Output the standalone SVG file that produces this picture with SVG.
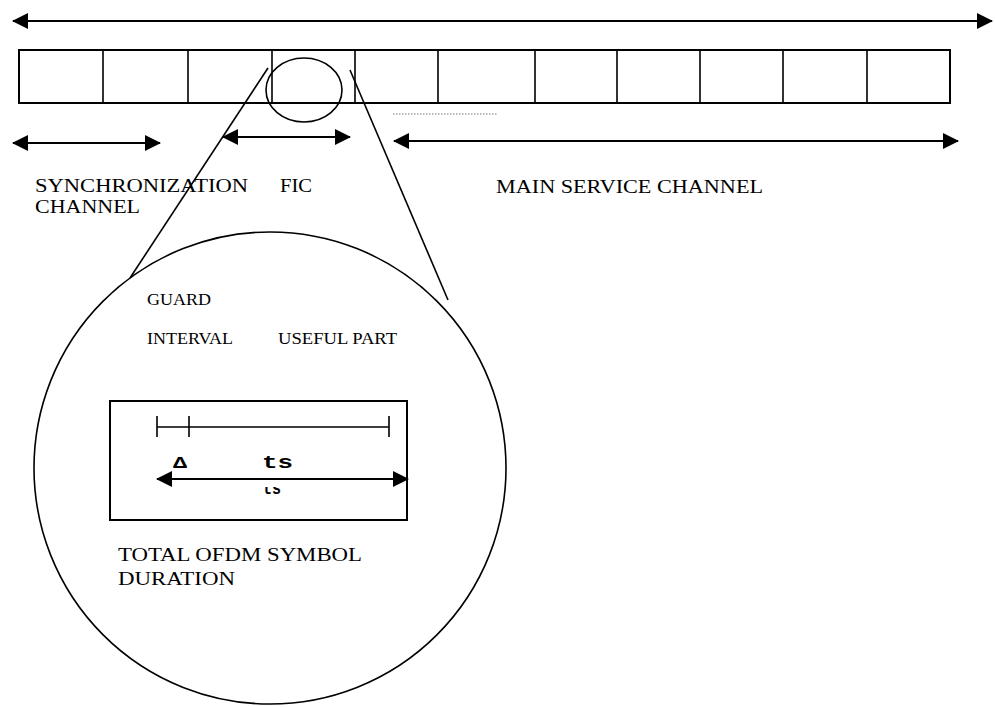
<svg xmlns="http://www.w3.org/2000/svg" width="995" height="707" viewBox="0 0 995 707">
<style>
.ln{fill:none;stroke:#000;stroke-width:1.6}
.bx{fill:#fff;stroke:#000;stroke-width:2}
.arr{fill:none;stroke:#000;stroke-width:2.2;marker-start:url(#ah);marker-end:url(#ah)}
.t{font-family:"Liberation Serif","Times New Roman",serif;fill:#000}
.m{font-family:"Liberation Mono","Courier New",monospace;font-weight:bold;fill:#000}
</style>
<defs>
<marker id="ah" viewBox="0 0 16 16" refX="15" refY="8" markerWidth="17" markerHeight="16" markerUnits="userSpaceOnUse" orient="auto-start-reverse">
<path d="M0,0 L16,8 L0,16 z" fill="#000"/>
</marker>
<clipPath id="clipTs"><rect x="250" y="487" width="60" height="12"/></clipPath>
</defs>
<rect width="995" height="707" fill="#fff"/>

<g id="frame-strip">
<rect class="bx" x="19" y="50" width="931" height="53"/>
<path class="ln" stroke-width="2" d="M103,50V103M188,50V103M272,50V103M355,50V103M438,50V103M535,50V103M617,50V103M700,50V103M783,50V103M867,50V103"/>
</g>

<g id="zoom-circle">
<circle class="ln" cx="270" cy="468" r="236"/>
</g>

<g id="fic-ellipse">
<ellipse class="ln" cx="304" cy="90" rx="38" ry="32"/>
</g>

<g id="connectors">
<line class="arr" x1="13" y1="21" x2="992" y2="21"/>
<line class="arr" x1="13" y1="143" x2="160" y2="143"/>
<line class="arr" x1="223" y1="137" x2="350" y2="137"/>
<line class="arr" x1="394" y1="141" x2="958" y2="141"/>
<line class="ln" x1="268" y1="68" x2="130" y2="278"/>
<line class="ln" x1="350" y1="70" x2="448" y2="300"/>
<line x1="393" y1="114" x2="498" y2="114" stroke="#777" stroke-width="1.2" stroke-dasharray="1.5,1.5"/>
</g>

<g id="labels">
<text class="t" x="35" y="192" font-size="18" textLength="213" lengthAdjust="spacingAndGlyphs">SYNCHRONIZATION</text>
<text class="t" x="35" y="213" font-size="18" textLength="105" lengthAdjust="spacingAndGlyphs">CHANNEL</text>
<text class="t" x="280" y="192" font-size="18" textLength="32" lengthAdjust="spacingAndGlyphs">FIC</text>
<text class="t" x="496" y="193" font-size="18" textLength="267" lengthAdjust="spacingAndGlyphs">MAIN SERVICE CHANNEL</text>
</g>

<g id="symbol-detail">
<text class="t" x="147" y="305" font-size="16" textLength="64" lengthAdjust="spacingAndGlyphs">GUARD</text>
<text class="t" x="147" y="344" font-size="16" textLength="86" lengthAdjust="spacingAndGlyphs">INTERVAL</text>
<text class="t" x="278" y="344" font-size="16" textLength="119" lengthAdjust="spacingAndGlyphs">USEFUL PART</text>
<rect class="bx" x="110" y="401" width="297" height="119"/>
<path class="ln" d="M157,427H389M157,416V437M189,416V437M389,416V437"/>
<line class="arr" x1="157" y1="479" x2="408" y2="479"/>
<text class="m" x="173" y="468" font-size="17" textLength="14" lengthAdjust="spacingAndGlyphs">Δ</text>
<text class="m" x="262" y="468" font-size="19" textLength="31" lengthAdjust="spacingAndGlyphs">ts</text>
<text class="m" x="263" y="494" font-size="19" textLength="18" lengthAdjust="spacingAndGlyphs" clip-path="url(#clipTs)">ts</text>
<text class="t" x="118" y="561" font-size="18" textLength="244" lengthAdjust="spacingAndGlyphs">TOTAL OFDM SYMBOL</text>
<text class="t" x="118" y="585" font-size="18" textLength="117" lengthAdjust="spacingAndGlyphs">DURATION</text>
</g>
</svg>
